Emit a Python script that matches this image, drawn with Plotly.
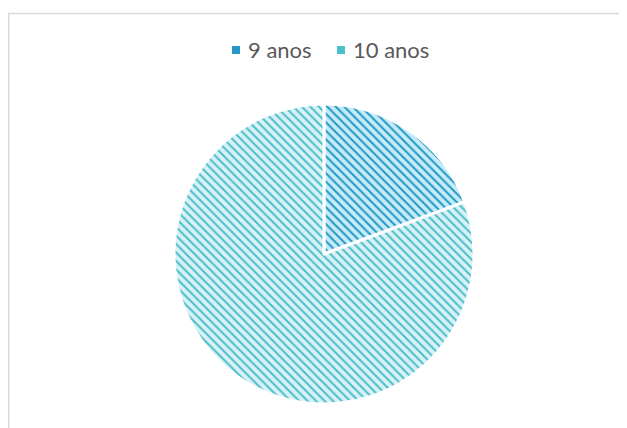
import plotly.graph_objects as go

labels = ['9 anos', '10 anos']
values = [6, 25]

bg_colors = ['#c4edf9', '#d8f2f5']
fg_colors = ['#2597c4', '#4dbecb']

# the page puts the figure 8px in from the top-left corner, so positions below are shifted by 8px
W, H = 627, 428

fig = go.Figure()
fig.add_trace(go.Pie(
    labels=labels, values=values,
    sort=False, direction='clockwise', rotation=0,
    textinfo='none', hoverinfo='label+value+percent',
    marker=dict(colors=bg_colors,
                line=dict(color='white', width=3),
                pattern=dict(shape='\\', fgcolor=fg_colors, bgcolor=bg_colors,
                             fillmode='replace', size=6, solidity=0.33)),
    domain=dict(x=[166/W, 466/W], y=[32/H, 332/H]),
    showlegend=False,
))

# chart frame (grey border at top and left, like the spreadsheet chart area)
fig.add_shape(type='line', xref='paper', yref='paper', x0=0, x1=1, y0=1-5.5/H, y1=1-5.5/H,
              line=dict(color='#d9d9d9', width=1.5))
fig.add_shape(type='line', xref='paper', yref='paper', x0=0.8/W, x1=0.8/W, y0=0, y1=1-5/H,
              line=dict(color='#d9d9d9', width=1.5))

# legend drawn by hand: small square + label
legend_x = [224, 329]
for lx, lab, col in zip(legend_x, labels, fg_colors):
    fig.add_shape(type='rect', xref='paper', yref='paper',
                  x0=lx/W, x1=(lx+8)/W, y0=1-46/H, y1=1-38/H,
                  fillcolor=col, line=dict(width=0))
    fig.add_annotation(x=(lx+14)/W, y=1-42/H, xref='paper', yref='paper',
                       text=lab, showarrow=False, xanchor='left', yanchor='middle',
                       font=dict(family='Lato', size=22, color='#595959'))

fig.update_layout(
    width=W, height=H,
    margin=dict(l=0, r=0, t=0, b=0),
    paper_bgcolor='white', plot_bgcolor='white',
)

fig.write_html("out.html")
